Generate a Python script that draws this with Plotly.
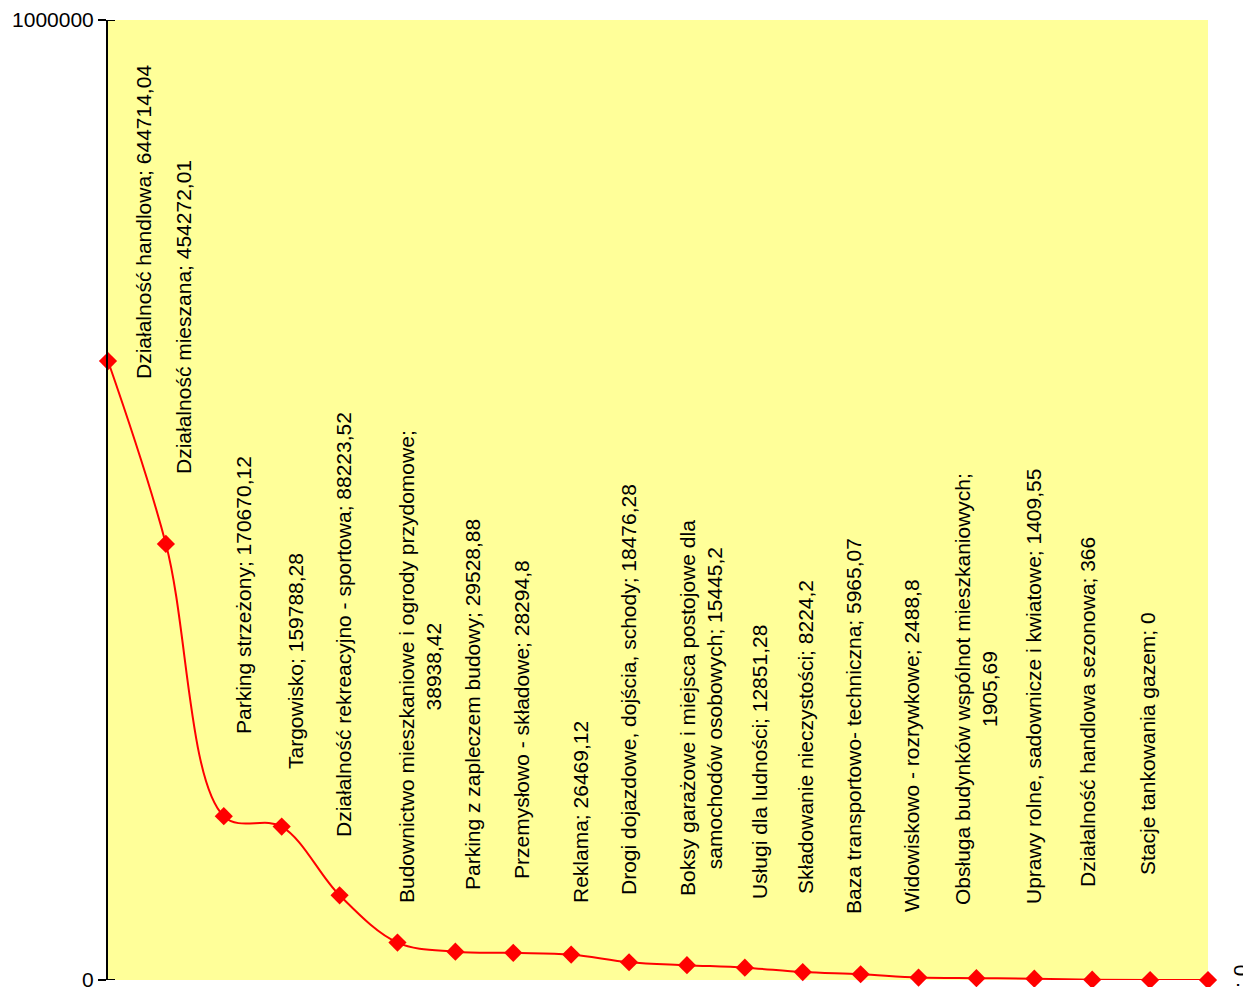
import textwrap
import plotly.graph_objects as go

# ---- data ----
categories = [
    "Działalność handlowa",
    "Działalność mieszana",
    "Parking strzeżony",
    "Targowisko",
    "Działalność rekreacyjno - sportowa",
    "Budownictwo mieszkaniowe i ogrody przydomowe",
    "Parking z zapleczem budowy",
    "Przemysłowo - składowe",
    "Reklama",
    "Drogi dojazdowe, dojścia, schody",
    "Boksy garażowe i miejsca postojowe dla samochodów osobowych",
    "Usługi dla ludności",
    "Składowanie nieczystości",
    "Baza transportowo- techniczna",
    "Widowiskowo - rozrywkowe",
    "Obsługa budynków wspólnot mieszkaniowych",
    "Uprawy rolne, sadownicze i kwiatowe",
    "Działalność handlowa sezonowa",
    "Stacje tankowania gazem",
    "",
]
values = [644714.04, 454272.01, 170670.12, 159788.28, 88223.52, 38938.42,
          29528.88, 28294.8, 26469.12, 18476.28, 15445.2, 12851.28, 8224.2,
          5965.07, 2488.8, 1905.69, 1409.55, 366, 0, 0]
y_tick_values = [0, 1000000]
y_tick_labels = ["0", "1000000"]

# ---- label layout (page pixel positions, converted to plot-area fractions) ----
label_x_px = [143, 184, 244, 295, 344, 420, 472, 521, 580, 628, 701, 759,
              805, 853, 911, 976, 1033, 1087, 1147, 1240]
label_y_px = [222, 317, 595, 661, 625, 667, 705, 720, 812, 690, 708, 762,
              737, 726, 746, 689, 687, 712, 744, 977]

# plot area in page pixels (page body has an 8px offset)
OFF = 8
PL, PR, PT, PB = 108, 1208, 20, 980
W, H = 1251 - OFF, 987 - OFF


def fmt(v):
    s = ("%.2f" % v).rstrip("0").rstrip(".")
    return s.replace(".", ",")


def label_text(cat, v):
    full = f"{cat}; {fmt(v)}"
    return "<br>".join(textwrap.wrap(full, width=45))


x_idx = list(range(len(values)))
FONT = "Liberation Sans, Arial, sans-serif"

fig = go.Figure()
fig.add_trace(go.Scatter(
    x=x_idx, y=values, mode="lines+markers",
    line=dict(color="#FF0000", width=2, shape="spline", smoothing=1),
    marker=dict(symbol="diamond", size=14, color="#FF0000"),
    cliponaxis=False, hoverinfo="skip", showlegend=False,
))

annotations = []
for i, (c, v) in enumerate(zip(categories, values)):
    annotations.append(dict(
        x=(label_x_px[i] - PL) / (PR - PL), xref="paper",
        y=(PB - label_y_px[i]) / (PB - PT), yref="paper",
        text=label_text(c, v), textangle=-90, showarrow=False,
        xanchor="center", yanchor="middle", align="center",
        font=dict(family=FONT, size=21, color="#000000"),
    ))

shapes = []
for tv in y_tick_values:
    shapes.append(dict(type="line", xref="paper", yref="y",
                       x0=0, x1=7 / (PR - PL), y0=tv, y1=tv,
                       line=dict(color="#000000", width=2)))

fig.update_layout(
    width=W, height=H,
    margin=dict(l=PL - OFF, r=W - (PR - OFF), t=PT - OFF, b=H - (PB - OFF),
                autoexpand=False),
    paper_bgcolor="#FFFFFF", plot_bgcolor="#FFFF99",
    font=dict(family=FONT, size=21, color="#000000"),
    xaxis=dict(range=[0, len(values) - 1], visible=False, showgrid=False,
               zeroline=False),
    yaxis=dict(range=[0, 1000000], tickvals=y_tick_values,
               ticktext=y_tick_labels, showgrid=False, zeroline=False,
               showline=True, linecolor="#000000", linewidth=2,
               ticks="outside", ticklen=8, tickwidth=2, tickcolor="#000000",
               ticklabeloverflow="allow",
               tickfont=dict(family=FONT, size=21, color="#000000")),
    annotations=annotations, shapes=shapes,
)

fig.write_html("out.html")
